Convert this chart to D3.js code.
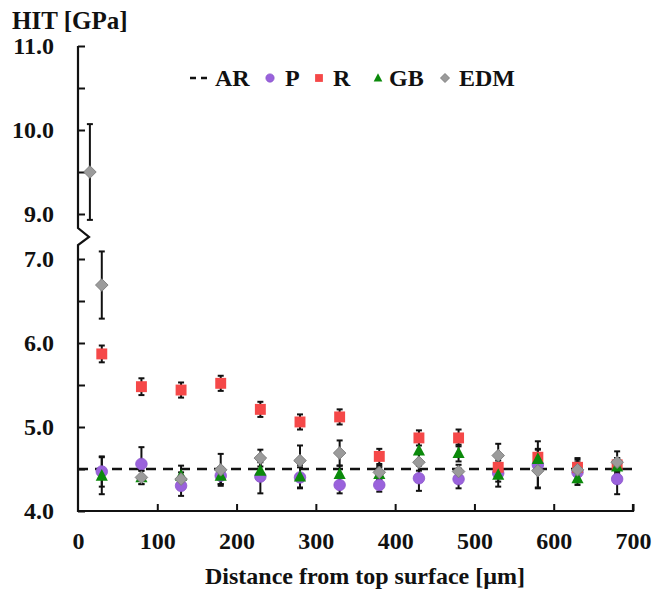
<!DOCTYPE html>
<html>
<head>
<meta charset="utf-8">
<script src="https://cdn.jsdelivr.net/npm/d3@7"></script>
<style>
  html, body { margin: 0; padding: 0; background: #fff; }
  svg { display: block; }
  text { font-family: "Liberation Serif", "Times New Roman", serif; font-weight: bold; fill: #111; }
</style>
</head>
<body>
<svg id="chart" width="653" height="595"></svg>
<script>
// ---------------- data ----------------
const xDepth = [30, 80, 130, 180, 230, 280, 330, 380, 430, 480, 530, 580, 630, 680];
const arValue = 4.5;
const pValues   = [4.47, 4.56, 4.30, 4.42, 4.41, 4.40, 4.31, 4.31, 4.39, 4.38, 4.45, 4.55, 4.46, 4.38];
const pErr      = [0.18, 0.20, 0.12, 0.10, 0.20, 0.12, 0.10, 0.08, 0.15, 0.11, 0.10, 0.28, 0.12, 0.18];
const rValues   = [5.87, 5.48, 5.44, 5.52, 5.21, 5.06, 5.12, 4.65, 4.87, 4.87, 4.52, 4.64, 4.52, 4.55];
const rErr      = [0.10, 0.10, 0.09, 0.09, 0.09, 0.09, 0.09, 0.09, 0.09, 0.10, 0.08, 0.09, 0.09, 0.08];
const gbValues  = [4.42, 4.40, 4.42, 4.42, 4.48, 4.41, 4.44, 4.44, 4.72, 4.69, 4.43, 4.62, 4.39, 4.53];
const gbErr     = [0.22, 0.08, 0.12, 0.10, 0.10, 0.14, 0.10, 0.08, 0.12, 0.10, 0.14, 0.12, 0.08, 0.10];
const edmX      = [15, 30, 80, 130, 180, 230, 280, 330, 380, 430, 480, 530, 580, 630, 680];
const edmValues = [9.50, 6.69, 4.40, 4.38, 4.49, 4.63, 4.60, 4.69, 4.46, 4.58, 4.47, 4.66, 4.48, 4.49, 4.58];
const edmErr    = [0.57, 0.40, 0.08, 0.08, 0.19, 0.10, 0.18, 0.15, 0.08, 0.10, 0.08, 0.14, 0.20, 0.14, 0.13];
const xTicks = [0, 100, 200, 300, 400, 500, 600, 700];
const yTicksUpper = [9.0, 9.5, 10.0, 10.5, 11.0];
const yTicksLower = [4.0, 4.5, 5.0, 5.5, 6.0, 6.5, 7.0];
const legendLabels = ["AR", "P", "R", "GB", "EDM"];

// ---------------- scales ----------------
const svg = d3.select("#chart");
const x = d3.scaleLinear().domain([0, 700]).range([78, 633]);
const yUp = d3.scaleLinear().domain([9, 11]).range([214, 46]);
const yLo = d3.scaleLinear().domain([4, 7]).range([511, 259]);
const y = v => (v >= 8 ? yUp(v) : yLo(v));

const colors = { P: "#9a62dc", R: "#f54848", GB: "#0b8a0b", EDM: "#9b9b9b" };
const fontSize = 24;

// ---------------- axes ----------------
const fmt = d => (Math.abs(d - Math.round(d)) < 1e-9 ? d3.format(".1f")(d) : "");
function styleAxis(g) {
  g.select(".domain").remove();
  g.selectAll(".tick line").attr("stroke", "#111").attr("stroke-width", 2);
  g.selectAll(".tick text")
    .attr("font-family", '"Liberation Serif", "Times New Roman", serif')
    .attr("font-weight", "bold")
    .attr("font-size", fontSize)
    .attr("fill", "#111");
}
svg.append("g").attr("transform", `translate(${x(0)},0)`)
  .call(d3.axisLeft(yUp).tickValues(yTicksUpper).tickFormat(fmt).tickSizeInner(-7).tickSizeOuter(0).tickPadding(24))
  .call(styleAxis);
svg.append("g").attr("transform", `translate(${x(0)},0)`)
  .call(d3.axisLeft(yLo).tickValues(yTicksLower).tickFormat(fmt).tickSizeInner(-7).tickSizeOuter(0).tickPadding(24))
  .call(styleAxis);
svg.append("g").attr("transform", `translate(0,${yLo(4)})`)
  .call(d3.axisBottom(x).tickValues(xTicks).tickFormat(d3.format("d")).tickSizeInner(-7).tickSizeOuter(0).tickPadding(21))
  .call(styleAxis)
  .call(g => g.selectAll(".tick").filter(d => d === 0).select("line").remove());

// axis lines with the break zigzag
const x0 = x(0);
const bTop = yUp(9) + 14, bMid = yUp(9) + 23, bBot = yUp(9) + 31;
svg.append("path")
  .attr("d", `M${x0},${yUp(11)} L${x0},${bTop} L${x0 + 11},${bMid} L${x0},${bBot} L${x0},${yLo(4)} L${x(700)},${yLo(4)} L${x(700)},${yLo(4) - 7}`)
  .attr("fill", "none").attr("stroke", "#111").attr("stroke-width", 2.2).attr("stroke-linejoin", "miter");

// axis titles
svg.append("text").attr("x", 12).attr("y", 29).attr("font-size", 25).text("HIT [GPa]");
svg.append("text").attr("x", 365).attr("y", 584).attr("text-anchor", "middle")
  .attr("font-size", fontSize).text("Distance from top surface [µm]");

// ---------------- AR reference line ----------------
svg.append("line")
  .attr("x1", x(0)).attr("x2", x(700)).attr("y1", y(arValue)).attr("y2", y(arValue))
  .attr("stroke", "#111").attr("stroke-width", 2.6).attr("stroke-dasharray", "10,7");

// ---------------- error bars ----------------
const series = [
  { key: "P", xs: xDepth, vs: pValues, es: pErr },
  { key: "R", xs: xDepth, vs: rValues, es: rErr },
  { key: "GB", xs: xDepth, vs: gbValues, es: gbErr },
  { key: "EDM", xs: edmX, vs: edmValues, es: edmErr }
];
const errG = svg.append("g");
series.forEach(s => {
  s.vs.forEach((v, i) => {
    const cx = x(s.xs[i]);
    const yt = y(v + s.es[i]), yb = y(v - s.es[i]);
    errG.append("line").attr("x1", cx).attr("x2", cx).attr("y1", yt).attr("y2", yb)
      .attr("stroke", "#111").attr("stroke-width", 2);
    [yt, yb].forEach(yy => errG.append("line").attr("x1", cx - 3).attr("x2", cx + 3)
      .attr("y1", yy).attr("y2", yy).attr("stroke", "#111").attr("stroke-width", 2));
  });
});

// ---------------- markers ----------------
function marker(g, key, cx, cy, s) {
  if (key === "P") {
    g.append("circle").attr("cx", cx).attr("cy", cy).attr("r", s * 0.55)
      .attr("fill", colors.P).attr("stroke", "#8a55cc").attr("stroke-width", 0.8);
  } else if (key === "R") {
    g.append("rect").attr("x", cx - s * 0.52).attr("y", cy - s * 0.52).attr("width", s * 1.04).attr("height", s * 1.04)
      .attr("fill", colors.R);
  } else if (key === "GB") {
    const h = s * 1.05;
    g.append("path").attr("d", `M${cx},${cy - h * 0.6} L${cx + h * 0.55},${cy + h * 0.45} L${cx - h * 0.55},${cy + h * 0.45} Z`)
      .attr("fill", colors.GB);
  } else {
    const r = s * 0.6;
    g.append("path").attr("d", `M${cx},${cy - r} L${cx + r},${cy} L${cx},${cy + r} L${cx - r},${cy} Z`)
      .attr("fill", colors.EDM).attr("stroke", "#7a7a7a").attr("stroke-width", 0.9);
  }
}
const mk = svg.append("g");
series.forEach(s => {
  s.vs.forEach((v, i) => marker(mk, s.key, x(s.xs[i]), y(v), 10.5));
});

// ---------------- legend ----------------
const lg = svg.append("g");
const ly = 78;
lg.append("line").attr("x1", 190).attr("x2", 212).attr("y1", ly).attr("y2", ly)
  .attr("stroke", "#111").attr("stroke-width", 2.6).attr("stroke-dasharray", "6,5");
const legendItems = [
  { key: null, mx: null, tx: 215 },
  { key: "P", mx: 270, tx: 285 },
  { key: "R", mx: 319, tx: 333 },
  { key: "GB", mx: 378, tx: 389 },
  { key: "EDM", mx: 445, tx: 459 }
];
legendItems.forEach((it, i) => {
  if (it.key) marker(lg, it.key, it.mx, ly, 7.5);
  lg.append("text").attr("x", it.tx).attr("y", ly).attr("dy", "0.35em")
    .attr("font-size", fontSize).text(legendLabels[i]);
});
</script>
</body>
</html>
